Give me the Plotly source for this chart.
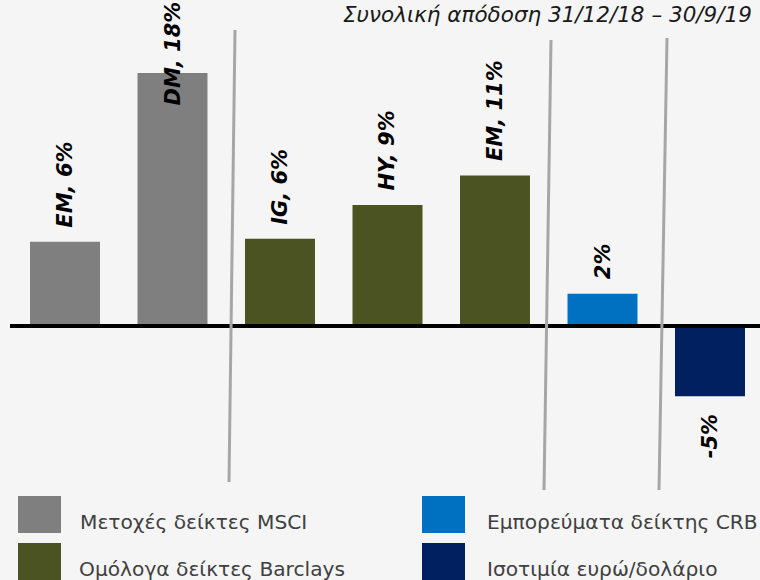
import plotly.graph_objects as go

# ---- data ----
categories = ["EM", "DM", "IG", "HY", "EM bonds", "CRB", "EUR/USD"]
values = [6.0, 18.0, 6.2, 8.6, 10.7, 2.3, -5.0]
bar_labels = ["EM, 6%", "DM, 18%", "IG, 6%", "HY, 9%", "EM, 11%", "2%", "-5%"]
group_of_bar = [0, 0, 1, 1, 1, 2, 3]
group_names = ["Μετοχές δείκτες MSCI", "Ομόλογα δείκτες Barclays",
               "Εμπορεύματα δείκτης CRB", "Ισοτιμία ευρώ/δολάριο"]
group_colors = ["#7f7f7f", "#4b5323", "#0070c0", "#002060"]
title_text = "Συνολική απόδοση 31/12/18 – 30/9/19"

W, H = 760, 580
FONT = "DejaVu Sans, Liberation Sans, Arial, sans-serif"

fig = go.Figure()
x_idx = list(range(len(categories)))
for g, (name, col) in enumerate(zip(group_names, group_colors)):
    xs = [i for i in x_idx if group_of_bar[i] == g]
    ys = [values[i] for i in xs]
    fig.add_trace(go.Bar(
        x=xs, y=ys, width=0.651, name=name,
        marker=dict(color=col, line=dict(width=0)),
        showlegend=False, hoverinfo="skip",
    ))

annotations = []
for i, (v, lab) in enumerate(zip(values, bar_labels)):
    f = dict(family=FONT, size=21, color="#000000", weight="bold", style="italic")
    if v > 15:
        annotations.append(dict(x=i, xref="x", y=1, yref="paper", yanchor="top",
                                text=lab, textangle=-90, showarrow=False, font=f,
                                yshift=0))
    elif v >= 0:
        annotations.append(dict(x=i, xref="x", y=v, yref="y", yanchor="bottom",
                                text=lab, textangle=-90, showarrow=False, font=f,
                                yshift=12))
    else:
        annotations.append(dict(x=i, xref="x", y=v, yref="y", yanchor="top",
                                text=lab, textangle=-90, showarrow=False, font=f,
                                yshift=-16))

# title
annotations.append(dict(x=754 / W, y=1 - 15 / H, xref="paper", yref="paper",
                        xanchor="right", yanchor="middle", text=title_text,
                        showarrow=False,
                        font=dict(family=FONT, size=21.5, color="#1a1a1a", style="italic")))

shapes = []
# baseline
shapes.append(dict(type="line", xref="paper", yref="y", x0=10 / W, x1=1, y0=0, y1=0,
                   line=dict(color="#000000", width=4), layer="above"))
# separators
for (xt, yt, xb, yb) in [(235, 30, 229, 482), (551, 40, 544, 490), (667, 38, 659, 490)]:
    shapes.append(dict(type="line", xref="paper", yref="paper",
                       x0=xt / W, y0=1 - yt / H, x1=xb / W, y1=1 - yb / H,
                       line=dict(color="#a6a6a6", width=3), layer="above"))

# legend (custom)
leg_pos = [(18, 496, 78), (18, 543, 77), (422, 496, 485), (422, 543, 485)]
for (sx, sy, tx), name, col in zip(leg_pos, group_names, group_colors):
    shapes.append(dict(type="rect", xref="paper", yref="paper",
                       x0=sx / W, x1=(sx + 43) / W, y0=1 - (sy + 37) / H, y1=1 - sy / H,
                       fillcolor=col, line=dict(width=0)))
    annotations.append(dict(x=tx / W, y=1 - (sy + 26) / H, xref="paper", yref="paper",
                            xanchor="left", yanchor="middle", text=name, showarrow=False,
                            font=dict(family=FONT, size=20.2, color="#404040")))

px_per = 14.06
base_px = 326
fig.update_layout(
    width=W, height=H,
    margin=dict(l=0, r=0, t=0, b=0),
    paper_bgcolor="#f5f5f5", plot_bgcolor="#f5f5f5",
    xaxis=dict(range=[-65 / 107.5, (W - 65) / 107.5], visible=False, fixedrange=True),
    yaxis=dict(range=[-(H - base_px) / px_per, base_px / px_per], visible=False,
               fixedrange=True),
    annotations=annotations, shapes=shapes,
    barmode="overlay",
)

fig.write_html("out.html", config={"displayModeBar": False},
               post_script="document.body.style.margin='0px';document.body.style.overflow='hidden';")
